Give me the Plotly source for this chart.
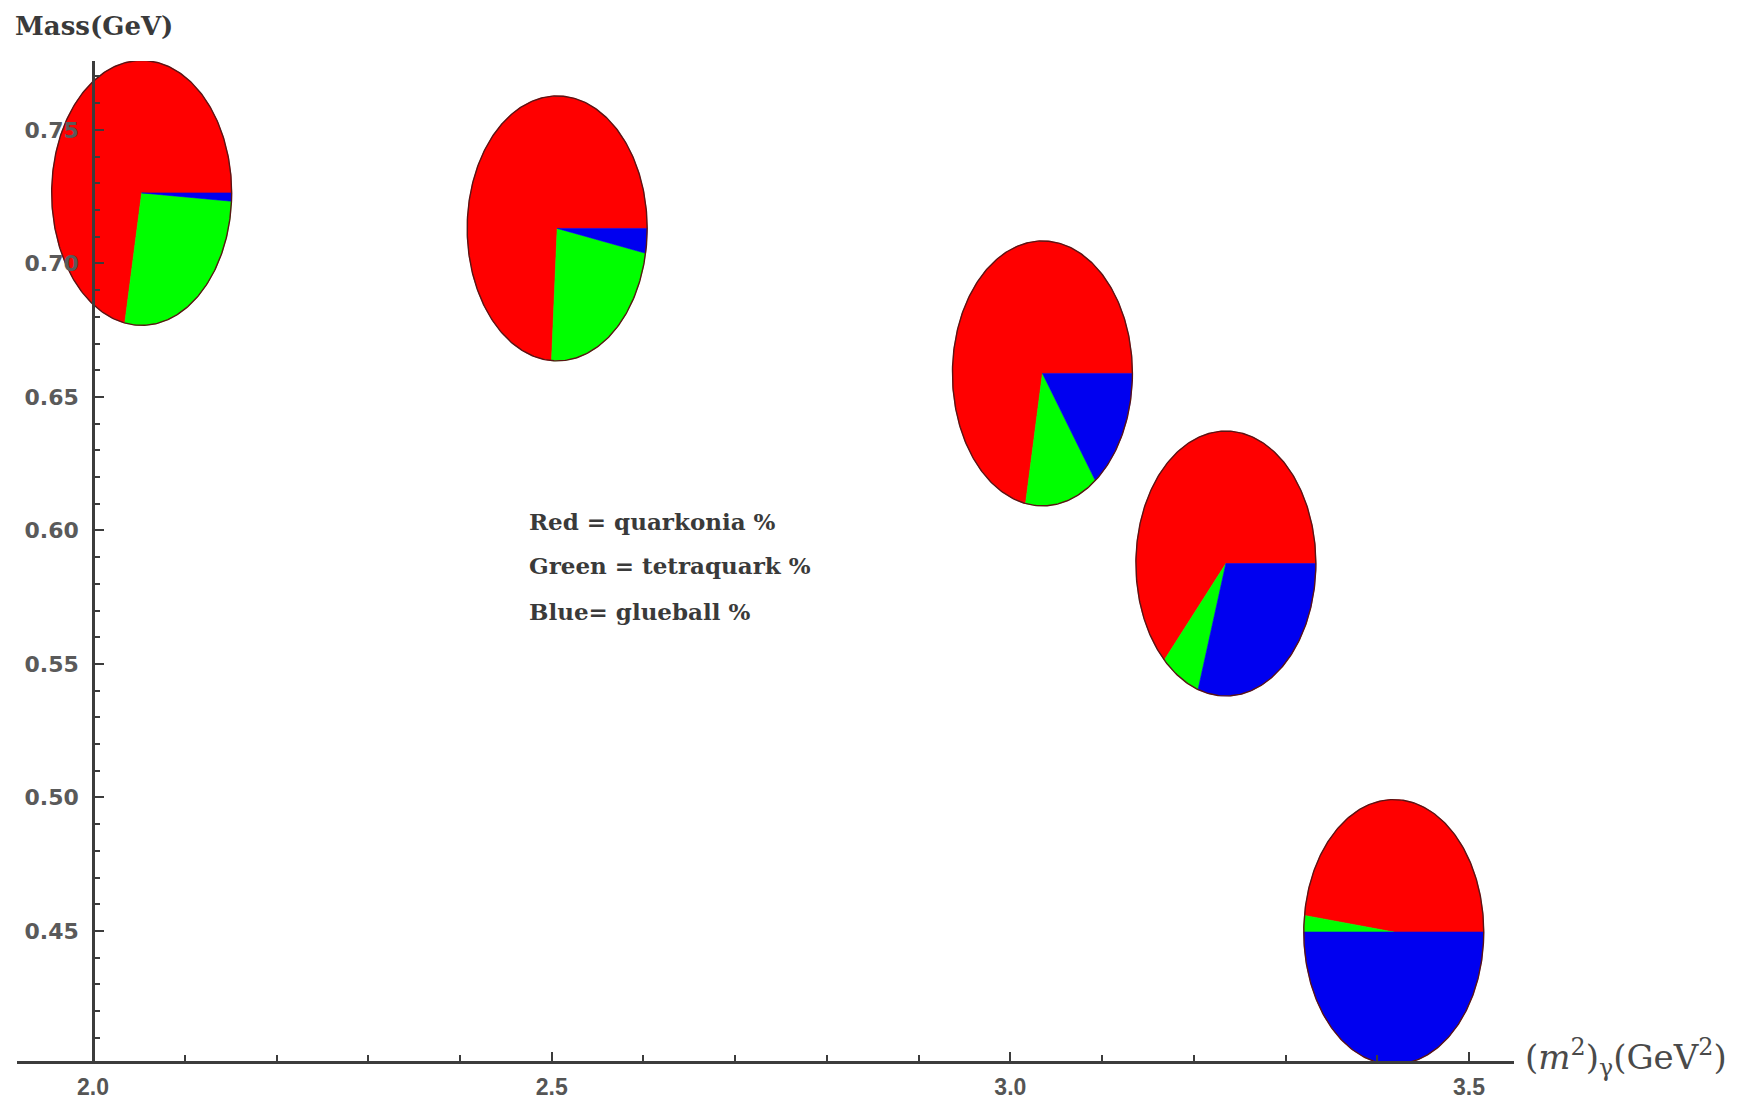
import numpy as np
import plotly.graph_objects as go

# ---- data ----
m2_gamma = [2.053, 2.506, 3.035, 3.235, 3.418]          # (m^2)_gamma  (GeV^2)
mass_gev = [0.7264, 0.7131, 0.6588, 0.5876, 0.4496]     # Mass (GeV)
quarkonia_pct = [72, 74, 72, 63, 48]
tetraquark_pct = [27, 23, 13, 7, 2]
glueball_pct = [1, 3, 15, 30, 50]

x_tick_vals = [2.0, 2.5, 3.0, 3.5]
x_tick_text = ["2.0", "2.5", "3.0", "3.5"]
y_tick_vals = [0.45, 0.50, 0.55, 0.60, 0.65, 0.70, 0.75]
y_tick_text = ["0.45", "0.50", "0.55", "0.60", "0.65", "0.70", "0.75"]

legend_lines = ["Red = quarkonia %", "Green = tetraquark %", "Blue= glueball %"]

# ---- styles ----
SLICE_COLORS = ["#ff0000", "#00ff00", "#0000f0"]
RX, RY = 0.0981, 0.0496          # pie ellipse radii in axis units
OUTLINE = "#5a1414"
AX = "#3c3c3c"

fig = go.Figure()
for cx, cy, q, t4, g in zip(m2_gamma, mass_gev, quarkonia_pct, tetraquark_pct, glueball_pct):
    fr = np.array([q, t4, g], dtype=float)
    fr /= fr.sum()
    start = 0.0
    for f, col in zip(fr, SLICE_COLORS):
        end = start + f * 2 * np.pi
        t = np.linspace(start, end, max(int(f * 360), 2) + 1)
        xs = np.concatenate([[cx], cx + RX * np.cos(t), [cx]])
        ys = np.concatenate([[cy], cy + RY * np.sin(t), [cy]])
        fig.add_trace(go.Scatter(x=xs, y=ys, mode="lines", fill="toself",
                                 fillcolor=col, line=dict(color=col, width=0.6),
                                 hoverinfo="skip", showlegend=False))
        start = end
    t = np.linspace(0, 2 * np.pi, 361)
    fig.add_trace(go.Scatter(x=cx + RX * np.cos(t), y=cy + RY * np.sin(t), mode="lines",
                             line=dict(color=OUTLINE, width=1.4),
                             hoverinfo="skip", showlegend=False))

# page body has an 8px default margin, so the figure is drawn 8px in from the corner
OFF = 8
W, H = 1748 - OFF, 1108 - OFF
L, R, T, B = 17, 1514, 61, 1061          # plot area in window pixels
plot_w, plot_h = R - L, B - T


def px(xw):
    return (xw - L) / plot_w


def py(yw):
    return (B - yw) / plot_h


fig.update_layout(
    width=W, height=H,
    margin=dict(l=L - OFF, r=W - (R - OFF), t=T - OFF, b=H - (B - OFF), autoexpand=False),
    paper_bgcolor="white", plot_bgcolor="white",
    showlegend=False,
    xaxis=dict(range=[1.9171, 3.5491], domain=[0, 1], anchor="y",
               showline=True, linecolor=AX, linewidth=2.5,
               showgrid=False, zeroline=False,
               tickmode="array", tickvals=x_tick_vals, ticktext=x_tick_text,
               ticks="inside", ticklen=9, tickwidth=2, tickcolor=AX,
               minor=dict(tick0=2.0, dtick=0.1, ticks="inside", ticklen=6,
                          tickwidth=1.5, tickcolor=AX, showgrid=False),
               tickfont=dict(family="Liberation Sans", size=23, color="#555555", weight="bold"),
               ticklabelstandoff=4,
               automargin=False, layer="above traces"),
    yaxis=dict(range=[0.4013, 0.7758], domain=[0, 1], anchor="free",
               position=px(93),
               showline=True, linecolor=AX, linewidth=2.5,
               showgrid=False, zeroline=False,
               tickmode="array", tickvals=y_tick_vals, ticktext=y_tick_text,
               ticks="inside", ticklen=9, tickwidth=2, tickcolor=AX,
               minor=dict(tick0=0.40, dtick=0.01, ticks="inside", ticklen=5,
                          tickwidth=1.5, tickcolor=AX, showgrid=False),
               tickfont=dict(family="DejaVu Sans", size=22, color="#5a5a5a", weight="bold"),
               ticklabelstandoff=9,
               automargin=False, layer="above traces"),
)

annotations = [
    dict(text="Mass(GeV)", xref="paper", yref="paper",
         x=px(13), y=py(26), xanchor="left", yanchor="middle",
         showarrow=False, font=dict(family="DejaVu Serif", size=26, color="#3a3a3a", weight="bold")),
    dict(text="(<i>m</i><sup>2</sup>)<sub>γ</sub>(GeV<sup>2</sup>)", xref="paper", yref="paper",
         x=px(1523), y=py(1057), xanchor="left", yanchor="middle",
         showarrow=False, font=dict(family="DejaVu Serif", size=34, color="#4a4a4a")),
]
for i, line in enumerate(legend_lines):
    ypx = [521, 565, 611][i]
    annotations.append(dict(text=line, xref="paper", yref="paper",
                            x=px(527), y=py(ypx),
                            xanchor="left", yanchor="middle", showarrow=False,
                            font=dict(family="DejaVu Serif", size=23, color="#3a3a3a", weight="bold")))
fig.update_layout(annotations=annotations)

fig.write_html("out.html")
